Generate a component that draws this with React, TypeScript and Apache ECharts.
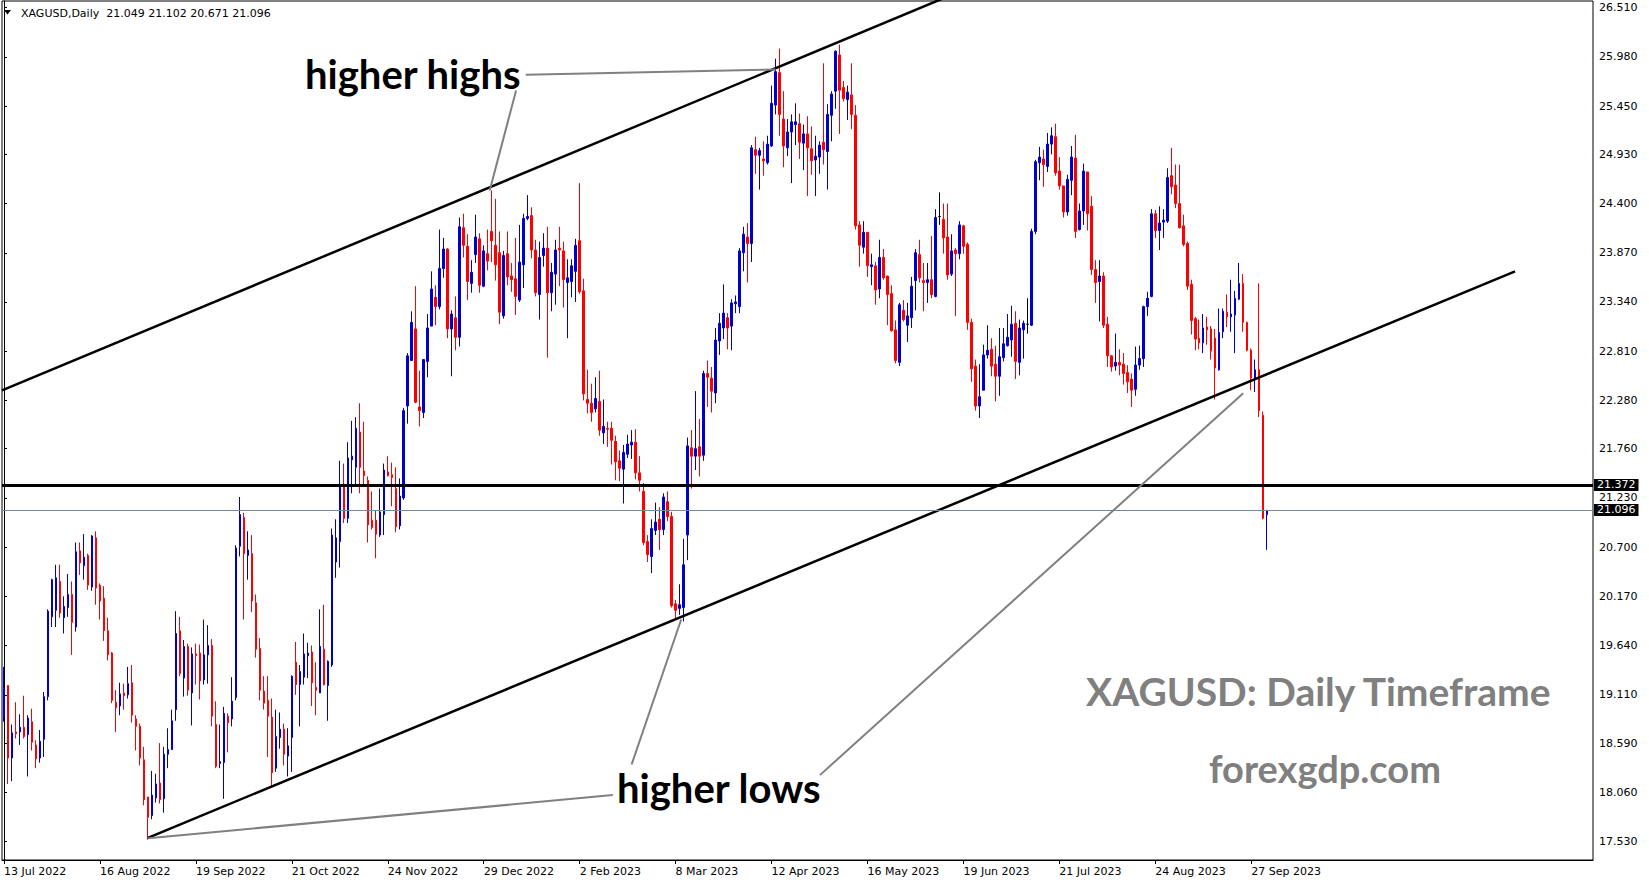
import React, { useEffect, useRef } from "react";
import * as echarts from "echarts";

// Daily candles, [open, high, low, close], grouped by the spans between date ticks
const jul13Aug15 = [
  [18.88, 19.41, 18.82, 19.18], [19.21, 19.21, 18.15, 18.43], [18.43, 18.79, 18.18, 18.70], [18.71, 19.03, 18.64, 18.69],
  [18.71, 18.90, 18.57, 18.76], [18.76, 19.10, 18.64, 18.66], [18.68, 18.89, 18.23, 18.86], [18.82, 18.96, 18.51, 18.60],
  [18.57, 18.62, 18.32, 18.42], [18.43, 18.73, 18.38, 18.61], [18.63, 19.14, 18.44, 19.09], [19.09, 20.03, 19.05, 20.01],
  [19.95, 20.36, 19.84, 20.35], [20.02, 20.51, 19.84, 20.37], [20.33, 20.51, 19.94, 19.99], [19.94, 20.17, 19.77, 20.06],
  [20.05, 20.41, 19.95, 20.19], [20.19, 20.33, 19.54, 19.89], [19.84, 20.75, 19.79, 20.65], [20.66, 20.75, 20.40, 20.53],
  [20.50, 20.84, 20.35, 20.59], [20.61, 20.63, 20.24, 20.29], [20.27, 20.83, 20.23, 20.82], [20.80, 20.87, 20.08, 20.26],
];
const aug16Sep16 = [
  [20.29, 20.31, 19.92, 20.12], [20.15, 20.28, 19.69, 19.80], [19.80, 19.94, 19.48, 19.54], [19.56, 19.57, 19.02, 19.05],
  [19.03, 19.16, 18.71, 18.97], [18.99, 19.24, 18.89, 19.12], [19.13, 19.23, 18.95, 19.10], [19.11, 19.41, 19.07, 19.23],
  [19.24, 19.43, 18.81, 18.89], [18.85, 18.89, 18.51, 18.77], [18.77, 18.80, 18.35, 18.43], [18.41, 18.55, 17.92, 17.98],
  [18.01, 18.01, 17.55, 17.79], [17.81, 18.29, 17.77, 18.03], [18.00, 18.26, 17.95, 18.15], [18.16, 18.59, 17.94, 17.98],
  [17.99, 18.55, 17.84, 18.47], [18.47, 18.75, 18.32, 18.52], [18.52, 18.95, 18.52, 18.83], [18.95, 20.01, 18.83, 19.77],
  [19.80, 19.95, 19.31, 19.34], [19.29, 19.70, 19.09, 19.63], [19.63, 19.66, 19.10, 19.16], [19.13, 19.62, 18.78, 19.55],
];
const sep19Oct20 = [
  [19.55, 19.66, 19.22, 19.53], [19.56, 19.65, 19.06, 19.26], [19.27, 19.92, 19.22, 19.54], [19.54, 19.86, 19.23, 19.64],
  [19.64, 19.71, 18.77, 18.88], [18.79, 19.04, 18.32, 18.34], [18.37, 18.79, 18.32, 18.39], [18.38, 18.98, 17.99, 18.91],
  [18.88, 18.91, 18.49, 18.81], [18.85, 19.30, 18.77, 19.04], [19.08, 20.72, 19.05, 20.69], [20.71, 21.24, 20.60, 21.05],
  [21.02, 21.07, 19.92, 20.63], [20.61, 20.87, 20.35, 20.67], [20.63, 20.83, 20.00, 20.12], [20.10, 20.19, 19.51, 19.60],
  [19.61, 19.72, 19.05, 19.16], [19.15, 19.31, 18.95, 19.02], [19.05, 19.31, 18.44, 18.88], [18.87, 19.07, 18.12, 18.27],
  [18.32, 18.95, 18.28, 18.66], [18.65, 18.92, 18.53, 18.74], [18.74, 18.80, 18.35, 18.47], [18.45, 18.75, 18.23, 18.56],
];
const oct21Nov23 = [
  [18.65, 19.32, 18.28, 19.31], [19.46, 19.68, 19.11, 19.22], [19.22, 19.43, 18.77, 19.36], [19.30, 19.77, 19.22, 19.55],
  [19.53, 19.67, 19.29, 19.56], [19.57, 19.64, 18.99, 19.24], [19.19, 19.46, 18.89, 19.16], [19.13, 20.03, 19.13, 19.63],
  [19.60, 20.08, 19.21, 19.22], [19.21, 19.48, 18.83, 19.47], [19.43, 20.90, 19.41, 20.83], [20.54, 21.00, 20.37, 20.80],
  [20.76, 21.63, 20.48, 21.35], [21.35, 21.60, 20.96, 21.01], [21.01, 21.83, 20.96, 21.66], [21.64, 22.06, 21.28, 21.68],
  [21.56, 22.10, 21.38, 21.98], [21.94, 22.25, 21.28, 21.56], [21.52, 22.05, 21.36, 21.47], [21.42, 21.46, 20.75, 20.94],
  [20.99, 21.30, 20.89, 20.91], [20.99, 21.10, 20.58, 20.84], [20.83, 21.33, 20.81, 21.08], [21.05, 21.60, 20.83, 21.53],
];
const nov24Dec28 = [
  [21.51, 21.68, 21.46, 21.47], [21.48, 21.61, 21.14, 21.45], [21.33, 21.56, 20.86, 20.92], [20.93, 21.44, 20.89, 21.25],
  [21.23, 22.20, 21.21, 22.17], [22.22, 22.79, 22.03, 22.76], [22.71, 23.24, 22.71, 23.12], [23.05, 23.51, 22.25, 22.26],
  [22.21, 22.60, 22.00, 22.17], [22.15, 22.72, 22.09, 22.72], [22.70, 23.21, 22.53, 23.06], [23.08, 23.67, 23.08, 23.48],
  [23.39, 23.52, 23.09, 23.29], [23.29, 24.12, 23.26, 23.70], [23.70, 24.03, 23.60, 23.91], [23.91, 23.92, 22.95, 23.05],
  [23.05, 23.25, 22.54, 23.21], [23.17, 23.40, 22.82, 22.96], [22.96, 24.25, 22.86, 24.15], [24.14, 24.29, 23.82, 23.95],
  [23.94, 24.07, 23.36, 23.56], [23.54, 23.79, 23.44, 23.66], [23.85, 24.28, 23.76, 24.04], [24.02, 24.08, 23.44, 23.52],
];
const dec29Feb01 = [
  [23.51, 23.95, 23.50, 23.89], [23.86, 24.12, 23.68, 23.78], [24.10, 24.54, 23.77, 24.00], [23.95, 24.45, 23.57, 23.74],
  [23.87, 24.10, 23.10, 23.23], [23.19, 23.89, 23.16, 23.84], [23.86, 24.10, 23.52, 23.61], [23.62, 23.76, 23.45, 23.58],
  [23.59, 24.03, 23.20, 23.40], [23.36, 24.17, 23.34, 23.77], [23.74, 24.29, 23.49, 24.24], [24.24, 24.49, 24.22, 24.26],
  [24.27, 24.36, 23.81, 23.90], [23.90, 24.01, 23.40, 23.44], [23.42, 23.99, 23.15, 23.82], [23.84, 24.08, 23.72, 23.92],
  [23.92, 24.15, 22.74, 23.44], [23.44, 23.76, 23.24, 23.66], [23.64, 24.01, 23.31, 23.90], [23.92, 24.15, 23.51, 23.90],
  [23.89, 23.99, 23.28, 23.58], [23.55, 23.80, 22.95, 23.60], [23.56, 23.80, 23.39, 23.73], [23.67, 24.02, 23.34, 23.95],
];
const feb02Mar07 = [
  [24.00, 24.62, 23.43, 23.45], [23.46, 23.59, 22.28, 22.35], [22.29, 22.61, 22.14, 22.25], [22.25, 22.46, 22.05, 22.15],
  [22.19, 22.53, 22.15, 22.30], [22.27, 22.60, 21.90, 21.96], [21.93, 22.29, 21.81, 22.00], [21.98, 22.05, 21.78, 21.97],
  [21.98, 22.05, 21.59, 21.85], [21.84, 21.90, 21.42, 21.62], [21.63, 21.74, 21.41, 21.55], [21.54, 21.80, 21.17, 21.72],
  [21.70, 21.91, 21.66, 21.81], [21.80, 21.96, 21.65, 21.83], [21.83, 21.97, 21.43, 21.50], [21.50, 21.68, 21.30, 21.42],
  [21.30, 21.39, 20.72, 20.75], [20.76, 20.83, 20.54, 20.62], [20.60, 21.00, 20.42, 20.90], [20.88, 21.18, 20.83, 20.97],
  [21.00, 21.13, 20.67, 20.89], [20.89, 21.28, 20.83, 21.24], [21.19, 21.30, 20.98, 21.03], [21.03, 21.08, 20.05, 20.07],
];
const mar08Apr11 = [
  [20.09, 20.13, 19.92, 20.02], [20.04, 20.30, 19.97, 20.08], [20.05, 20.79, 19.90, 20.51], [20.83, 21.88, 20.56, 21.79],
  [21.77, 21.96, 21.33, 21.68], [21.68, 22.38, 21.53, 21.76], [21.78, 22.08, 21.46, 21.68], [21.69, 22.60, 21.63, 22.57],
  [22.57, 22.71, 22.21, 22.53], [22.52, 22.64, 22.15, 22.38], [22.36, 23.06, 22.25, 22.93], [22.92, 23.22, 22.77, 23.11],
  [23.06, 23.53, 22.94, 23.22], [23.17, 23.22, 22.83, 23.06], [23.08, 23.37, 22.82, 23.33], [23.32, 23.41, 23.22, 23.34],
  [23.29, 23.92, 23.22, 23.89], [23.87, 24.15, 23.67, 24.07], [24.04, 24.19, 23.55, 23.97], [23.97, 25.03, 23.77, 25.00],
  [24.98, 25.12, 24.72, 24.92], [24.92, 25.00, 24.55, 24.97], [24.88, 25.07, 24.70, 24.86], [24.84, 25.13, 24.82, 25.04],
];
const apr12May15 = [
  [25.02, 25.67, 25.01, 25.48], [25.46, 25.96, 25.36, 25.82], [25.81, 26.07, 25.13, 25.36], [25.31, 25.61, 24.79, 25.02],
  [25.00, 25.31, 24.91, 25.17], [25.17, 25.36, 24.62, 25.28], [25.25, 25.48, 25.03, 25.28], [25.26, 25.37, 24.88, 25.06],
  [25.05, 25.25, 24.76, 25.15], [25.15, 25.34, 24.48, 25.00], [24.99, 25.23, 24.71, 24.86], [24.87, 25.13, 24.48, 24.91],
  [24.90, 25.07, 24.72, 25.03], [25.06, 25.91, 24.82, 24.98], [24.96, 25.47, 24.55, 25.36], [25.35, 25.61, 25.07, 25.58],
  [25.61, 26.05, 25.42, 26.04], [26.00, 26.11, 25.15, 25.62], [25.65, 25.72, 25.50, 25.53], [25.52, 25.67, 25.30, 25.60],
  [25.57, 25.91, 25.20, 25.36], [25.35, 25.46, 24.12, 24.16], [24.17, 24.21, 23.72, 23.95], [23.93, 24.21, 23.86, 24.09],
];
const may16Jun16 = [
  [24.09, 24.09, 23.61, 23.73], [23.72, 23.86, 23.52, 23.74], [23.73, 23.77, 23.31, 23.47], [23.48, 24.01, 23.38, 23.82],
  [23.82, 23.91, 23.58, 23.60], [23.62, 23.62, 23.09, 23.42], [23.43, 23.52, 23.02, 23.03], [23.04, 23.14, 22.68, 22.71],
  [22.69, 23.33, 22.65, 23.31], [23.25, 23.36, 23.13, 23.15], [23.09, 23.33, 22.91, 23.19], [23.17, 23.61, 23.06, 23.51],
  [23.57, 23.91, 23.25, 23.87], [23.85, 24.01, 23.55, 23.60], [23.57, 23.76, 23.24, 23.55], [23.55, 23.76, 23.33, 23.58],
  [23.58, 24.05, 23.38, 23.42], [23.40, 24.34, 23.39, 24.25], [24.26, 24.52, 24.17, 24.26], [24.23, 24.40, 23.86, 24.03],
  [24.04, 24.40, 23.58, 23.63], [23.64, 24.07, 23.62, 23.89], [23.90, 23.92, 23.19, 23.86], [23.86, 24.21, 23.80, 24.17],
];
const jun19Jul20 = [
  [24.16, 24.17, 23.86, 23.94], [23.96, 23.98, 23.04, 23.12], [23.12, 23.16, 22.48, 22.62], [22.65, 22.72, 22.17, 22.22],
  [22.22, 22.67, 22.09, 22.32], [22.39, 22.88, 22.39, 22.77], [22.77, 23.09, 22.73, 22.82], [22.83, 22.95, 22.54, 22.65],
  [22.67, 22.87, 22.27, 22.54], [22.54, 23.06, 22.33, 22.75], [22.74, 23.06, 22.70, 22.89], [22.87, 23.21, 22.86, 22.96],
  [22.93, 23.30, 22.75, 23.10], [23.11, 23.24, 22.51, 22.70], [22.69, 23.15, 22.55, 23.06], [23.04, 23.14, 22.73, 23.11],
  [23.10, 23.38, 23.00, 23.10], [23.09, 24.13, 23.08, 24.10], [24.10, 24.87, 24.07, 24.85], [24.84, 25.01, 24.65, 24.90],
  [24.88, 24.98, 24.58, 24.82], [24.80, 25.16, 24.74, 25.04], [25.04, 25.22, 24.93, 25.13], [25.12, 25.26, 24.70, 24.73],
];
const jul21Aug23 = [
  [24.75, 24.90, 24.55, 24.59], [24.59, 24.59, 24.25, 24.31], [24.31, 24.71, 24.27, 24.66], [24.65, 25.02, 24.49, 24.90],
  [24.89, 25.14, 24.03, 24.10], [24.12, 24.40, 24.11, 24.32], [24.32, 24.83, 24.17, 24.75], [24.74, 24.74, 24.11, 24.29],
  [24.37, 24.48, 23.63, 23.69], [23.69, 23.79, 23.33, 23.55], [23.56, 23.79, 23.13, 23.62], [23.62, 23.66, 23.06, 23.09],
  [23.10, 23.18, 22.64, 22.76], [22.76, 22.77, 22.59, 22.64], [22.65, 23.00, 22.60, 22.69], [22.69, 22.83, 22.55, 22.66],
  [22.67, 22.79, 22.45, 22.57], [22.58, 22.66, 22.36, 22.48], [22.51, 22.57, 22.21, 22.39], [22.40, 22.86, 22.33, 22.66],
  [22.66, 22.87, 22.61, 22.73], [22.73, 23.30, 22.64, 23.29], [23.29, 23.45, 23.19, 23.38], [23.40, 24.34, 23.39, 24.29],
];
const aug24Oct03 = [
  [24.29, 24.33, 24.03, 24.11], [24.11, 24.37, 23.90, 24.19], [24.20, 24.34, 24.03, 24.22], [24.21, 24.78, 24.19, 24.68],
  [24.70, 25.00, 24.50, 24.58], [24.60, 24.82, 24.35, 24.40], [24.40, 24.82, 24.13, 24.14], [24.16, 24.28, 23.94, 23.96],
  [23.97, 23.99, 23.47, 23.51], [23.53, 23.58, 22.99, 23.14], [23.16, 23.18, 22.82, 22.94], [22.95, 23.15, 22.83, 22.90],
  [22.90, 23.21, 22.79, 23.06], [23.07, 23.18, 22.88, 23.04], [23.05, 23.08, 22.72, 22.81], [22.95, 23.05, 22.29, 22.63],
  [22.61, 23.27, 22.60, 23.01], [23.02, 23.27, 22.95, 23.24], [23.23, 23.42, 23.07, 23.18], [23.18, 23.58, 23.02, 23.21],
  [23.20, 23.46, 22.79, 23.38], [23.37, 23.76, 23.36, 23.54], [23.54, 23.64, 23.02, 23.12], [23.12, 23.13, 22.81, 22.82],
  [22.82, 22.84, 22.39, 22.52], [22.52, 22.72, 22.37, 22.61], [22.61, 23.54, 22.10, 22.17], [22.12, 22.16, 21.00, 21.01],
  [21.049, 21.102, 20.671, 21.096],
];

const candles = [
  ...jul13Aug15, ...aug16Sep16, ...sep19Oct20, ...oct21Nov23, ...nov24Dec28, ...dec29Feb01, ...feb02Mar07,
  ...mar08Apr11, ...apr12May15, ...may16Jun16, ...jun19Jul20, ...jul21Aug23, ...aug24Oct03,
];

const SYMBOL_TITLE = "XAGUSD,Daily";
const LAST_BAR = candles[candles.length - 1];

// Trading calendar
const FIRST_SESSION = [2022, 6, 13];
const MARKET_HOLIDAYS = ["2022-12-26", "2023-01-02", "2023-04-07"];
const MONTHS = ["Jan", "Feb", "Mar", "Apr", "May", "Jun", "Jul", "Aug", "Sep", "Oct", "Nov", "Dec"];
const LABEL_EVERY = 24;
const FUTURE_SLOTS = 81;

// Price scale
const PRICE_MIN = 17.331;
const PRICE_MAX = 26.581;
const PRICE_TICKS = [
  26.51, 25.98, 25.45, 24.93, 24.4, 23.87, 23.34, 22.81, 22.28, 21.76, 21.23, 20.7, 20.17, 19.64, 19.11, 18.59, 18.06, 17.53,
];
const HORIZONTAL_LEVEL = 21.372;
const LAST_PRICE = 21.096;

// Channel trendlines, [bar index, price]
const upperChannel = [[-0.5, 22.388], [240, 26.70]];
const lowerChannel = [[36, 17.57], [378, 23.67]];

// Pointer lines from the annotations to the swing points, [bar index, price]
const highsPointers = [
  [[130.5, 25.787], [193.0, 25.844]],
  [[128.1, 25.618], [121.5, 24.541]],
];
const lowsPointers = [
  [[152.3, 18.03], [36.1, 17.566]],
  [[157.0, 18.359], [169.4, 19.921]],
  [[204.1, 18.245], [310.0, 22.357]],
];

function tradingDays(count: number): string[] {
  const out: string[] = [];
  const d = new Date(Date.UTC(FIRST_SESSION[0], FIRST_SESSION[1], FIRST_SESSION[2]));
  while (out.length < count) {
    const wd = d.getUTCDay();
    const iso = d.toISOString().slice(0, 10);
    if (wd !== 0 && wd !== 6 && !MARKET_HOLIDAYS.includes(iso)) {
      out.push(`${d.getUTCDate()} ${MONTHS[d.getUTCMonth()]} ${d.getUTCFullYear()}`);
    }
    d.setUTCDate(d.getUTCDate() + 1);
  }
  return out;
}

const AXIS_FONT = '"DejaVu Sans", Tahoma, sans-serif';

export default function App() {
  const ref = useRef<HTMLDivElement>(null);

  useEffect(() => {
    if (!ref.current) return;
    const chart = echarts.init(ref.current, undefined, { renderer: "svg" });

    const dates = tradingDays(candles.length);
    const categories = [...dates, ...Array(FUTURE_SLOTS).fill("")];
    const lastIdx = candles.length - 1;
    const showDate = (i: number) => i % LABEL_EVERY === 0 && i <= lastIdx;

    const priceBox = (txt: string) => ({
      show: true,
      position: "end",
      distance: 1,
      formatter: txt,
      color: "#fff",
      backgroundColor: "#000",
      fontFamily: AXIS_FONT,
      fontSize: 11,
      padding: [1, 3, 0, 3],
    });

    const pointer = (pts: number[][], i: string) => ({
      type: "line",
      name: i,
      xAxisIndex: 1,
      yAxisIndex: 0,
      data: pts,
      symbol: "none",
      silent: true,
      z: 5,
      lineStyle: { color: "#808080", width: 2 },
    });

    chart.setOption({
      animation: false,
      backgroundColor: "#fff",
      grid: {
        left: 2,
        right: 56,
        top: 1,
        bottom: 24,
        show: true,
        borderColor: "#000",
        borderWidth: 1,
        containLabel: false,
      },
      xAxis: [
        {
          type: "category",
          data: categories,
          boundaryGap: true,
          axisLine: { show: true, lineStyle: { color: "#000", width: 1 } },
          axisTick: {
            show: true,
            interval: (i: number) => showDate(i),
            alignWithLabel: true,
            length: 4,
            lineStyle: { color: "#000" },
          },
          axisLabel: {
            interval: (i: number) => showDate(i),
            align: "left",
            margin: 6,
            color: "#000",
            fontFamily: AXIS_FONT,
            fontSize: 11,
          },
          splitLine: { show: false },
        },
        {
          type: "value",
          min: -0.5,
          max: categories.length - 0.5,
          show: false,
        },
      ],
      yAxis: {
        type: "value",
        position: "right",
        min: PRICE_MIN,
        max: PRICE_MAX,
        scale: true,
        axisLine: { show: true, lineStyle: { color: "#000", width: 1 } },
        axisTick: {
          show: true,
          length: 3,
          customValues: PRICE_TICKS,
          lineStyle: { color: "#000" },
        },
        axisLabel: {
          customValues: PRICE_TICKS,
          formatter: (v: number) => v.toFixed(3),
          margin: 6,
          color: "#000",
          fontFamily: AXIS_FONT,
          fontSize: 11,
        },
        splitLine: { show: false },
      },
      series: [
        {
          type: "candlestick",
          xAxisIndex: 0,
          yAxisIndex: 0,
          data: candles.map(([o, h, l, c]) => [o, c, l, h]),
          barWidth: 2,
          z: 2,
          itemStyle: {
            color: "#0000cc",
            borderColor: "#0000cc",
            color0: "#ff0000",
            borderColor0: "#ff0000",
            borderColorDoji: "#000",
            borderWidth: 1,
          },
          markLine: {
            silent: true,
            symbol: "none",
            animation: false,
            data: [
              {
                yAxis: HORIZONTAL_LEVEL,
                lineStyle: { color: "#000", width: 3, type: "solid" },
                label: priceBox(HORIZONTAL_LEVEL.toFixed(3)),
              },
              {
                yAxis: LAST_PRICE,
                lineStyle: { color: "#778899", width: 1, type: "solid" },
                label: priceBox(LAST_PRICE.toFixed(3)),
              },
            ],
          },
        },
        {
          type: "line",
          xAxisIndex: 1,
          yAxisIndex: 0,
          data: upperChannel,
          symbol: "none",
          silent: true,
          z: 4,
          lineStyle: { color: "#000", width: 2.5 },
        },
        {
          type: "line",
          xAxisIndex: 1,
          yAxisIndex: 0,
          data: lowerChannel,
          symbol: "none",
          silent: true,
          z: 4,
          lineStyle: { color: "#000", width: 2.5 },
        },
        ...highsPointers.map((p, i) => pointer(p, "hh" + i)),
        ...lowsPointers.map((p, i) => pointer(p, "hl" + i)),
      ],
      graphic: [
        {
          type: "polygon",
          shape: { points: [[4, 10], [11, 10], [7.5, 14.5]] },
          style: { fill: "#000" },
          silent: true,
        },
        {
          type: "text",
          x: 21,
          y: 13,
          silent: true,
          style: {
            text: `${SYMBOL_TITLE}  ${LAST_BAR.map((v) => v.toFixed(3)).join(" ")}`,
            font: `11px ${AXIS_FONT}`,
            fill: "#000",
            align: "left",
            verticalAlign: "middle",
          },
        },
        {
          type: "text",
          x: 305,
          y: 74,
          silent: true,
          z: 10,
          style: { text: "higher highs", font: "bold 40px Lato", fill: "#000", align: "left", verticalAlign: "middle" },
        },
        {
          type: "text",
          x: 617,
          y: 788,
          silent: true,
          z: 10,
          style: { text: "higher lows", font: "bold 40px Lato", fill: "#000", align: "left", verticalAlign: "middle" },
        },
        {
          type: "text",
          x: 1086,
          y: 691,
          silent: true,
          z: 10,
          style: {
            text: "XAGUSD: Daily Timeframe",
            font: "bold 39px Lato",
            fill: "#808080",
            align: "left",
            verticalAlign: "middle",
          },
        },
        {
          type: "text",
          x: 1209,
          y: 768,
          silent: true,
          z: 10,
          style: { text: "forexgdp.com", font: "bold 38px Lato", fill: "#808080", align: "left", verticalAlign: "middle" },
        },
      ],
    });

    return () => chart.dispose();
  }, []);

  return (
    <div
      ref={ref}
      style={{ position: "absolute", left: 0, top: 0, width: 1649, height: 884, background: "#fff" }}
    />
  );
}
